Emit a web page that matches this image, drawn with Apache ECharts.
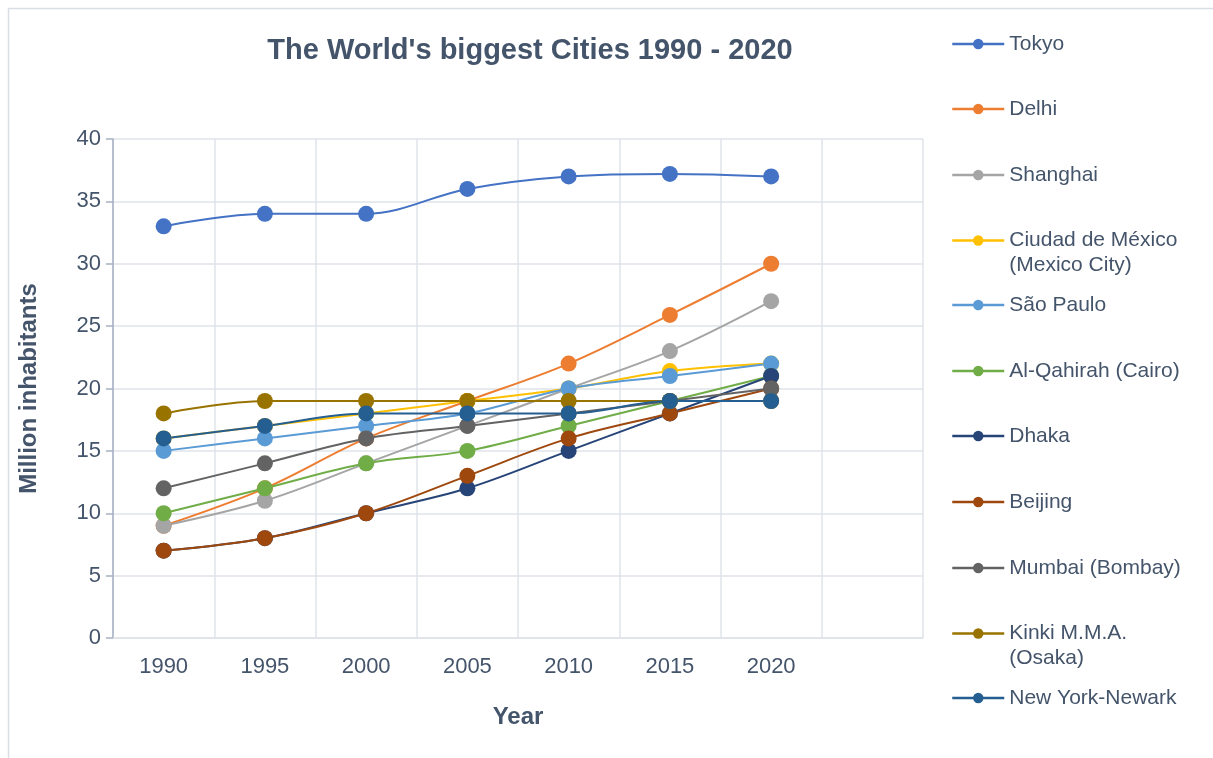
<!DOCTYPE html>
<html>
<head>
<meta charset="utf-8">
<script src="https://cdn.jsdelivr.net/npm/echarts@6/dist/echarts.min.js"></script>
<style>
html,body{margin:0;padding:0;background:#fff;}
#chart{width:1213px;height:758px;}
</style>
</head>
<body>
<div id="chart"></div>
<script>
// ---- data ----
const years = ['1990','1995','2000','2005','2010','2015','2020',''];
const cityNames = ['Tokyo','Delhi','Shanghai','Ciudad de México\n(Mexico City)','São Paulo','Al-Qahirah (Cairo)','Dhaka','Beijing','Mumbai (Bombay)','Kinki M.M.A.\n(Osaka)','New York-Newark'];
const tokyo    = [33, 34, 34, 36, 37, 37.2, 37];
const delhi    = [9, 12, 16, 19, 22, 25.9, 30];
const shanghai = [9, 11, 14, 17, 20, 23, 27];
const mexico   = [16, 17, 18, 19, 20, 21.4, 22];
const saoPaulo = [15, 16, 17, 18, 20, 21, 22];
const cairo    = [10, 12, 14, 15, 17, 19, 21];
const dhaka    = [7, 8, 10, 12, 15, 18, 21];
const beijing  = [7, 8, 10, 13, 16, 18, 20];
const mumbai   = [12, 14, 16, 17, 18, 19, 20];
const kinki    = [18, 19, 19, 19, 19, 19, 19];
const newYork  = [16, 17, 18, 18, 18, 19, 19];
const yTicks = [0, 5, 10, 15, 20, 25, 30, 35, 40];

const seriesData = [tokyo, delhi, shanghai, mexico, saoPaulo, cairo, dhaka, beijing, mumbai, kinki, newYork];
const colors = ['#4472C4','#ED7D31','#A5A5A5','#FFC000','#5B9BD5','#70AD47','#264478','#9E480E','#636363','#997300','#255E91'];
const legendCenters = [44,109,175,240,305,371,436,502,568,633,698];

const textColor = '#44546A';
const fontFam = '"Liberation Sans", Arial, sans-serif';

const series = cityNames.map((n, i) => ({
  name: n,
  type: 'line',
  data: seriesData[i],
  smooth: 0.35,
  symbol: 'circle',
  symbolSize: 16,
  lineStyle: { width: 2, color: colors[i] },
  itemStyle: { color: colors[i] },
  emphasis: { disabled: true }
}));

const legends = cityNames.map((n, i) => {
  const multi = n.indexOf('\n') >= 0;
  return {
    data: [n],
    orient: 'vertical',
    left: 951,
    top: multi ? legendCenters[i] - 37 : legendCenters[i] - 12.5,
    padding: 0,
    itemWidth: 52,
    itemHeight: 13,
    formatter: name => (name.indexOf('\n') >= 0 ? '\n' + name : name),
    lineStyle: { width: 2.5 },
    textStyle: {
      color: textColor,
      fontSize: 21,
      fontFamily: fontFam,
      lineHeight: 25
    }
  };
});

const chart = echarts.init(document.getElementById('chart'), null, { renderer: 'canvas' });
chart.setOption({
  animation: false,
  color: colors,
  textStyle: { fontFamily: fontFam },
  graphic: [{
    type: 'rect',
    left: 6, top: 6,
    shape: { width: 1400, height: 1000 },
    style: { fill: 'none', stroke: '#D9DEE6', lineWidth: 1.5 },
    silent: true, z: -10
  }],
  title: {
    text: "The World's biggest Cities 1990 - 2020",
    left: 525,
    textAlign: 'center',
    top: 31,
    textStyle: { color: textColor, fontSize: 29, fontWeight: 'bold', fontFamily: fontFam }
  },
  legend: legends,
  grid: { left: 113, right: 290, top: 139, bottom: 120, containLabel: false },
  xAxis: {
    type: 'category',
    data: years,
    boundaryGap: true,
    name: 'Year',
    nameLocation: 'middle',
    nameGap: 67,
    nameTextStyle: { color: textColor, fontSize: 24, fontWeight: 'bold', fontFamily: fontFam },
    axisLine: { show: true, lineStyle: { color: '#DFE3EA', width: 1.5 } },
    axisTick: { show: false },
    axisLabel: { color: textColor, fontSize: 22, margin: 18, interval: 0, fontFamily: fontFam },
    splitLine: { show: true, interval: 0, lineStyle: { color: '#DFE3EA', width: 1.5 } }
  },
  yAxis: {
    type: 'value',
    min: 0, max: 40, interval: 5,
    name: 'Million inhabitants',
    nameLocation: 'middle',
    nameRotate: 90,
    nameGap: 72,
    nameTextStyle: { color: textColor, fontSize: 24, fontWeight: 'bold', fontFamily: fontFam },
    axisLine: { show: true, lineStyle: { color: '#A7B1C4', width: 1.5 } },
    axisTick: { show: true, length: 7, lineStyle: { color: '#A7B1C4', width: 1.5 } },
    axisLabel: { color: textColor, fontSize: 22, margin: 12, fontFamily: fontFam,
      formatter: v => yTicks.indexOf(v) >= 0 ? String(v) : '' },
    splitLine: { show: true, lineStyle: { color: '#DFE3EA', width: 1.5 } }
  },
  series: series
});
</script>
</body>
</html>
